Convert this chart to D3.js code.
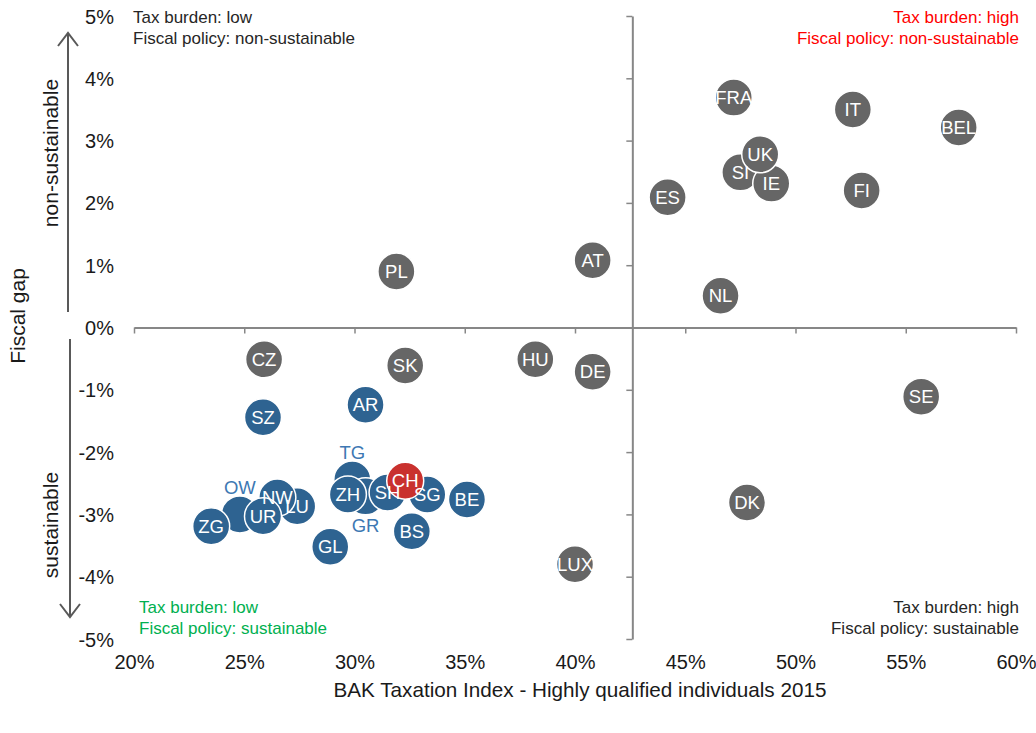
<!DOCTYPE html>
<html>
<head>
<meta charset="utf-8">
<script src="https://cdn.jsdelivr.net/npm/d3@7"></script>
<style>
  html, body { margin: 0; padding: 0; background: #fff; }
  svg { display: block; }
  text { font-family: "Liberation Sans", Arial, sans-serif; }
</style>
</head>
<body>
<svg id="chart" width="1036" height="733"></svg>
<script>
// European countries: BAK taxation index (%) and fiscal gap (% of GDP)
const countries   = ["FRA", "IT", "BEL", "SI", "IE", "UK", "FI", "ES", "AT", "PL", "NL", "CZ", "SK", "HU", "DE", "SE", "DK", "LUX"];
const countryTax  = [47.2, 52.6, 57.4, 47.5, 48.9, 48.4, 53.0, 44.2, 40.8, 31.9, 46.6, 25.9, 32.3, 38.2, 40.8, 55.7, 47.8, 40.0];
const countryGap  = [3.69, 3.50, 3.21, 2.49, 2.31, 2.78, 2.20, 2.09, 1.08, 0.90, 0.51, -0.51, -0.61, -0.51, -0.71, -1.11, -2.81, -3.80];

// Swiss cantons
const cantons     = ["SZ", "AR", "OW", "LU", "NW", "ZG", "UR", "GL", "TG", "GR", "ZH", "SH", "SG", "BS", "BE"];
const cantonTax   = [25.85, 30.5, 24.8, 27.4, 26.5, 23.5, 25.85, 28.9, 29.9, 30.5, 29.7, 31.5, 33.3, 32.6, 35.1];
const cantonGap   = [-1.44, -1.24, -3.00, -2.87, -2.73, -3.19, -3.03, -3.52, -2.44, -2.71, -2.68, -2.65, -2.68, -3.27, -2.76];
// cantons whose name sits beside the bubble rather than inside it
const outsideLabels = { OW: "above", TG: "above", GR: "below" };

// Switzerland as a whole
const swiss       = ["CH"];
const swissTax    = [32.3];
const swissGap    = [-2.46];

// Axes
const xTicks = [20, 25, 30, 35, 40, 45, 50, 55, 60];
const yTicks = [5, 4, 3, 2, 1, 0, -1, -2, -3, -4, -5];
const taxCross = 42.6;   // vertical axis crosses at the average tax burden

const xTitle = "BAK Taxation Index  - Highly qualified individuals 2015";
const yTitle = "Fiscal gap";

const quadrants = [
  { lines: ["Tax burden: low",  "Fiscal policy: non-sustainable"], pos: "tl", color: "#262626" },
  { lines: ["Tax burden: high", "Fiscal policy: non-sustainable"], pos: "tr", color: "#ff0000" },
  { lines: ["Tax burden: low",  "Fiscal policy: sustainable"],     pos: "bl", color: "#00b050" },
  { lines: ["Tax burden: high", "Fiscal policy: sustainable"],     pos: "br", color: "#262626" }
];

const svg = d3.select("#chart");
const plotL = 134, plotR = 1016, plotT = 16, plotB = 639;

const x = d3.scaleLinear().domain([20, 60]).range([plotL, plotR]);
const y = d3.scaleLinear().domain([-5, 5]).range([plotB, plotT]);
const R = 18.5;

const axisColor = "#878787";
const textColor = "#1a1a1a";
const pct = d => d + "%";

// Horizontal axis line at 0% with tick marks
const gx = svg.append("g").attr("transform", `translate(0,${y(0)})`)
  .call(d3.axisBottom(x).tickValues(xTicks).tickSize(6).tickSizeOuter(0).tickFormat(""));
gx.select(".domain").attr("stroke", axisColor).attr("stroke-width", 2);
gx.selectAll(".tick line").attr("stroke", axisColor).attr("stroke-width", 1.5);

// Vertical axis line at the crossing with tick marks
const gy = svg.append("g").attr("transform", `translate(${x(taxCross)},0)`)
  .call(d3.axisLeft(y).tickValues(yTicks).tickSize(6).tickSizeOuter(0).tickFormat(""));
gy.select(".domain").attr("stroke", axisColor).attr("stroke-width", 2);
gy.selectAll(".tick line").attr("stroke", axisColor).attr("stroke-width", 1.5);

// Tick labels along the outer edges
const gxl = svg.append("g").attr("transform", `translate(0,${plotB + 13})`)
  .call(d3.axisBottom(x).tickValues(xTicks).tickSize(0).tickFormat(pct));
gxl.select(".domain").remove();
gxl.selectAll("text").attr("font-size", 20).attr("fill", textColor);

const gyl = svg.append("g").attr("transform", `translate(${plotL - 17},0)`)
  .call(d3.axisLeft(y).tickValues(yTicks).tickSize(0).tickFormat(pct));
gyl.select(".domain").remove();
gyl.selectAll("text").attr("font-size", 20).attr("fill", textColor).attr("dy", "0.35em");

svg.selectAll("g").attr("font-family", null).attr("font-size", null);

// Axis titles
svg.append("text").attr("x", 580).attr("y", 697)
  .attr("text-anchor", "middle").attr("font-size", 20.7).attr("fill", textColor).text(xTitle);
svg.append("text").attr("transform", "translate(25,316) rotate(-90)")
  .attr("text-anchor", "middle").attr("font-size", 21).attr("fill", textColor).text(yTitle);

// Direction arrows beside the fiscal-gap axis
const arrowColor = "#595959";
const ag = svg.append("g").attr("stroke", arrowColor).attr("stroke-width", 2).attr("fill", "none");
ag.append("line").attr("x1", 68).attr("x2", 68).attr("y1", 33).attr("y2", 312);
ag.append("path").attr("d", "M58,46 L68,33 L78,46");
ag.append("line").attr("x1", 70).attr("x2", 70).attr("y1", 339).attr("y2", 617);
ag.append("path").attr("d", "M60,604 L70,617 L80,604");
svg.append("text").attr("transform", "translate(58,153) rotate(-90)")
  .attr("text-anchor", "middle").attr("font-size", 21).attr("fill", textColor).text("non-sustainable");
svg.append("text").attr("transform", "translate(58,525) rotate(-90)")
  .attr("text-anchor", "middle").attr("font-size", 21).attr("fill", textColor).text("sustainable");

// Quadrant captions
quadrants.forEach(q => {
  const isRight = q.pos[1] === "r";
  const isTop = q.pos[0] === "t";
  const tx = isRight ? 1019 : (isTop ? 133 : 139);
  const ty = isTop ? 23 : 613;
  q.lines.forEach((ln, i) => {
    svg.append("text").attr("x", tx).attr("y", ty + i * 21)
      .attr("font-size", 17)
      .attr("text-anchor", isRight ? "end" : "start")
      .attr("fill", q.color).text(ln);
  });
});

// Bubbles
const rows = [];
countries.forEach((n, i) => rows.push({ name: n, tax: countryTax[i], gap: countryGap[i], color: "#666666" }));
cantons.forEach((n, i) => rows.push({ name: n, tax: cantonTax[i], gap: cantonGap[i], color: "#2e6391" }));
swiss.forEach((n, i) => rows.push({ name: n, tax: swissTax[i], gap: swissGap[i], color: "#c9312e" }));

svg.append("g").selectAll("circle").data(rows).join("circle")
  .attr("cx", d => x(d.tax)).attr("cy", d => y(d.gap)).attr("r", R)
  .attr("fill", d => d.color).attr("stroke", "#fff").attr("stroke-width", 1.5);

svg.append("g").selectAll("text").data(rows).join("text")
  .attr("x", d => x(d.tax))
  .attr("y", d => {
    const o = outsideLabels[d.name];
    if (o === "above") return y(d.gap) - 27;
    if (o === "below") return y(d.gap) + 29;
    return y(d.gap);
  })
  .attr("dy", "0.36em").attr("text-anchor", "middle").attr("font-size", 18.5)
  .attr("fill", d => outsideLabels[d.name] ? "#3d78b3" : "#fff")
  .text(d => d.name);
</script>
</body>
</html>
